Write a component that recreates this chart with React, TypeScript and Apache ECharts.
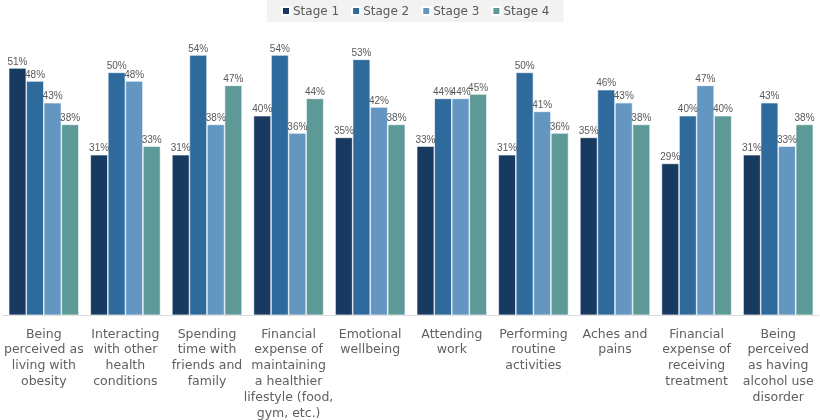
import React, { useEffect, useRef } from "react";
import * as echarts from "echarts";

const categories = [
  "Being\nperceived as\nliving with\nobesity",
  "Interacting\nwith other\nhealth\nconditions",
  "Spending\ntime with\nfriends and\nfamily",
  "Financial\nexpense of\nmaintaining\na healthier\nlifestyle (food,\ngym, etc.)",
  "Emotional\nwellbeing",
  "Attending\nwork",
  "Performing\nroutine\nactivities",
  "Aches and\npains",
  "Financial\nexpense of\nreceiving\ntreatment",
  "Being\nperceived\nas having\nalcohol use\ndisorder",
];

const seriesNames = ["Stage 1", "Stage 2", "Stage 3", "Stage 4"];
const stage1 = [51, 31, 31, 40, 35, 33, 31, 35, 29, 31];
const stage2 = [48, 50, 54, 54, 53, 44, 50, 46, 40, 43];
const stage3 = [43, 48, 38, 36, 42, 44, 41, 43, 47, 33];
const stage4 = [38, 33, 47, 44, 38, 45, 36, 38, 40, 38];
const colors = ["#183a61", "#2f6a9c", "#6397c1", "#5d9a97"];

export default function App() {
  const ref = useRef<HTMLDivElement>(null);
  useEffect(() => {
    document.body.style.margin = "0";
    const chart = echarts.init(ref.current!, null, { renderer: "svg" });
    const values = [stage1, stage2, stage3, stage4];
    chart.setOption({
      animation: false,
      legend: {
        left: 267,
        top: 0,
        padding: [5, 14, 5, 14],
        backgroundColor: "#f2f2f2",
        itemWidth: 8,
        itemHeight: 8,
        itemGap: 12,
        icon: "rect",
        textStyle: { fontFamily: "DejaVu Sans", fontSize: 12, color: "#595959", padding: [0, 0, 0, -2] },
        data: seriesNames,
      },
      grid: { left: 3, right: 1, top: 29, bottom: 104, containLabel: false },
      xAxis: {
        type: "category",
        data: categories,
        axisLine: { onZero: false, lineStyle: { color: "#d9d9d9", width: 1 } },
        axisTick: { show: false },
        axisLabel: {
          interval: 0,
          margin: 10,
          fontFamily: "DejaVu Sans",
          fontSize: 12.5,
          lineHeight: 15.8,
          color: "#5f5f5f",
          align: "center",
          verticalAlign: "top",
        },
      },
      yAxis: {
        type: "value",
        min: -6,
        max: 60,
        startValue: -6,
        show: false,
        splitLine: { show: false },
      },
      series: seriesNames.map((name, i) => ({
        name,
        type: "bar",
        data: values[i],
        barGap: "0%",
        barCategoryGap: "14%",
        itemStyle: { color: colors[i], borderColor: "#ffffff", borderWidth: 0.6 },
        label: {
          show: true,
          position: "top",
          distance: 2,
          formatter: "{c}%",
          fontFamily: "Liberation Sans",
          fontSize: 10,
          color: "#595959",
        },
      })),
    });
    return () => chart.dispose();
  }, []);
  return <div ref={ref} style={{ position: "fixed", left: 0, top: 0, width: 820, height: 420 }} />;
}
